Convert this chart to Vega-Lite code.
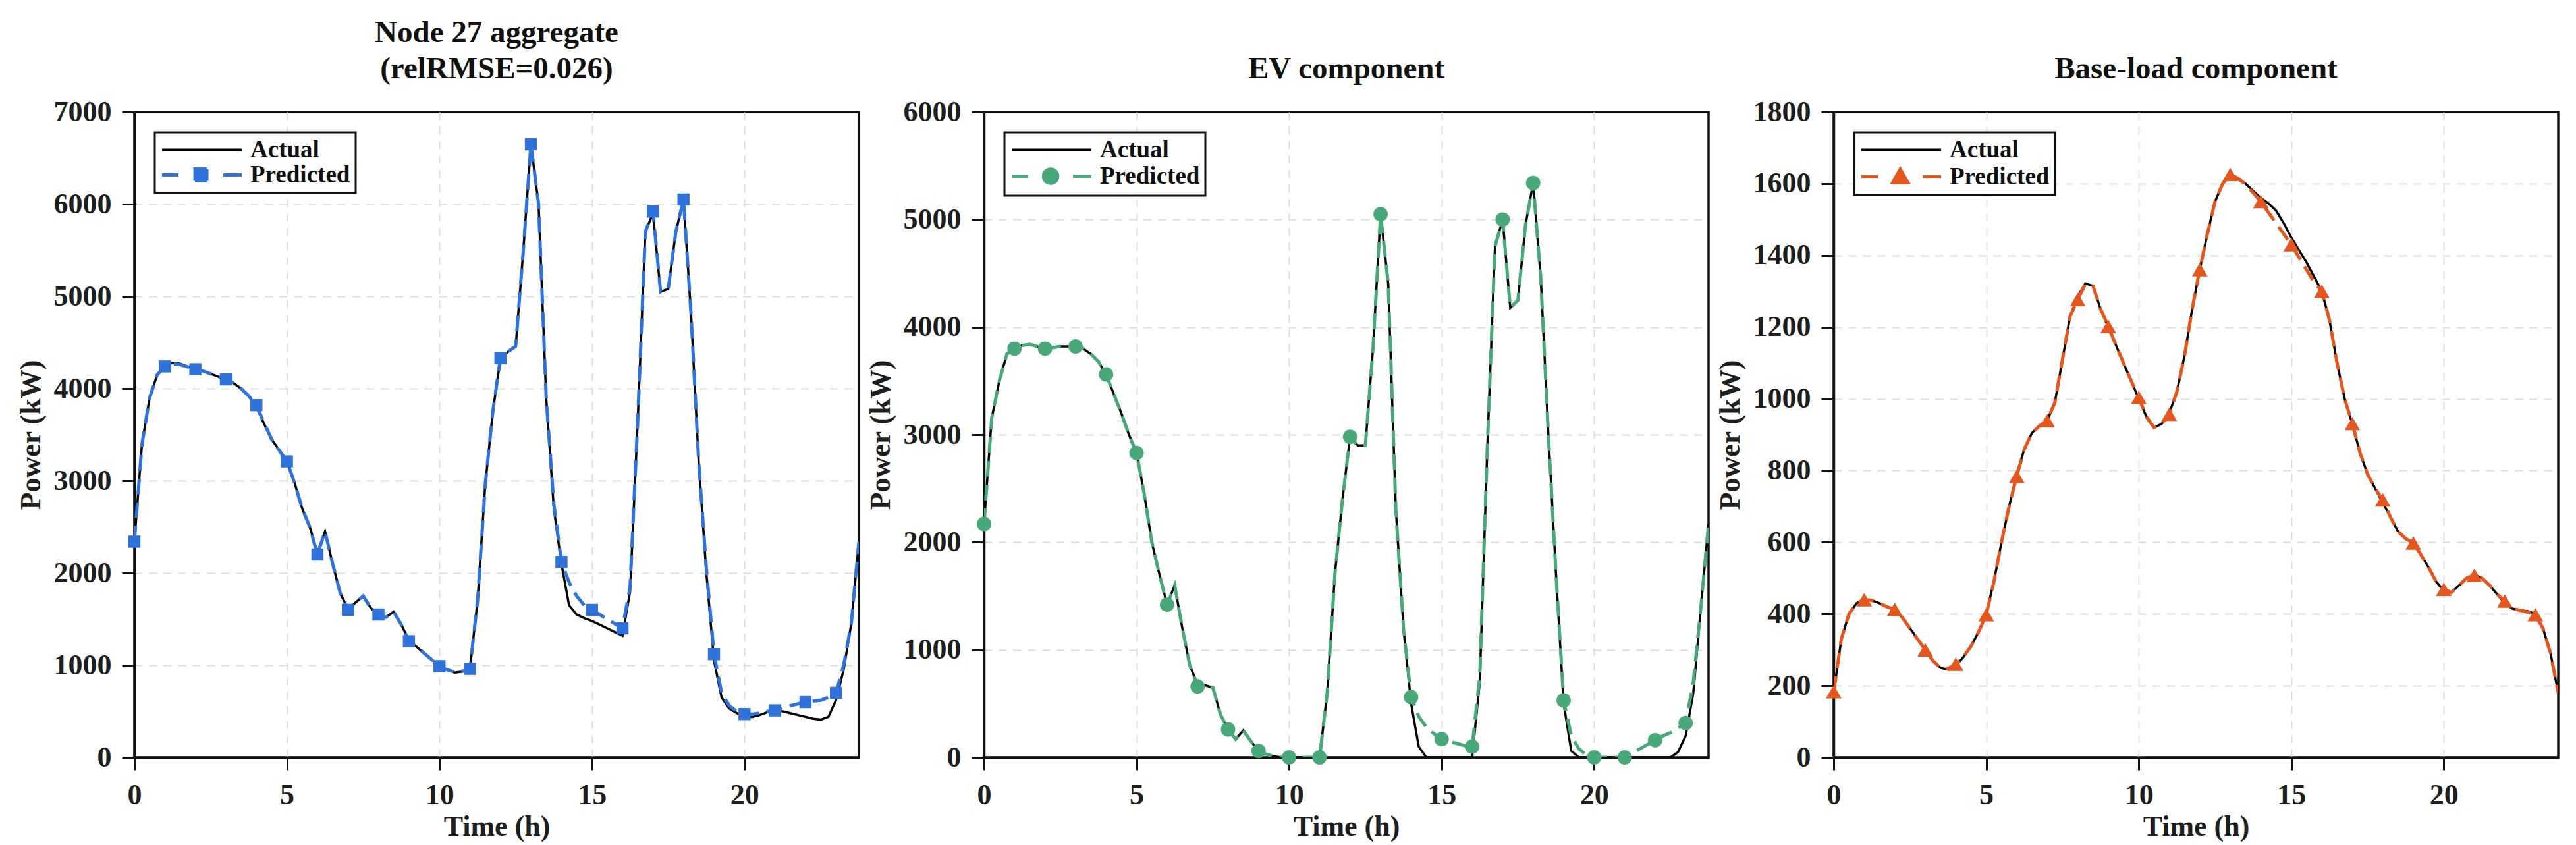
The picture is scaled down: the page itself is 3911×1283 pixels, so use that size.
{
  "$schema": "https://vega.github.io/schema/vega-lite/v6.json",
  "description": "Actual vs predicted power for Node 27: aggregate, EV and base-load components.",
  "background": "white",
  "padding": {"left": 23, "top": 24, "right": 10, "bottom": 10},
  "spacing": 190,
  "bounds": "flush",
  "datasets": {
    "agg": [
      {"t": 0, "a": 2340, "p": 2340}, {"t": 0.25, "a": 3400, "p": 3400}, {"t": 0.5, "a": 3900, "p": 3900}, {"t": 0.75, "a": 4150, "p": 4150},
      {"t": 1, "a": 4250, "p": 4240}, {"t": 1.25, "a": 4280, "p": 4270}, {"t": 1.5, "a": 4270, "p": 4260}, {"t": 1.75, "a": 4240, "p": 4235},
      {"t": 2, "a": 4210, "p": 4210}, {"t": 2.25, "a": 4190, "p": 4190}, {"t": 2.5, "a": 4160, "p": 4160}, {"t": 2.75, "a": 4130, "p": 4130},
      {"t": 3, "a": 4100, "p": 4100}, {"t": 3.25, "a": 4060, "p": 4060}, {"t": 3.5, "a": 4000, "p": 4000}, {"t": 3.75, "a": 3920, "p": 3920},
      {"t": 4, "a": 3800, "p": 3820}, {"t": 4.25, "a": 3620, "p": 3630}, {"t": 4.5, "a": 3450, "p": 3450}, {"t": 4.75, "a": 3330, "p": 3330},
      {"t": 5, "a": 3220, "p": 3210}, {"t": 5.25, "a": 2980, "p": 2980}, {"t": 5.5, "a": 2700, "p": 2700}, {"t": 5.75, "a": 2500, "p": 2500},
      {"t": 6, "a": 2220, "p": 2200}, {"t": 6.25, "a": 2450, "p": 2450}, {"t": 6.5, "a": 2100, "p": 2100}, {"t": 6.75, "a": 1780, "p": 1780},
      {"t": 7, "a": 1610, "p": 1600}, {"t": 7.25, "a": 1680, "p": 1680}, {"t": 7.5, "a": 1750, "p": 1750}, {"t": 7.75, "a": 1620, "p": 1620},
      {"t": 8, "a": 1540, "p": 1550}, {"t": 8.25, "a": 1520, "p": 1520}, {"t": 8.5, "a": 1580, "p": 1580}, {"t": 8.75, "a": 1440, "p": 1440},
      {"t": 9, "a": 1270, "p": 1260}, {"t": 9.25, "a": 1200, "p": 1200}, {"t": 9.5, "a": 1130, "p": 1130}, {"t": 9.75, "a": 1060, "p": 1060},
      {"t": 10, "a": 1000, "p": 990}, {"t": 10.25, "a": 950, "p": 950}, {"t": 10.5, "a": 920, "p": 925}, {"t": 10.75, "a": 930, "p": 935},
      {"t": 11, "a": 960, "p": 960}, {"t": 11.25, "a": 1700, "p": 1700}, {"t": 11.5, "a": 2950, "p": 2950}, {"t": 11.75, "a": 3750, "p": 3750},
      {"t": 12, "a": 4320, "p": 4330}, {"t": 12.25, "a": 4400, "p": 4400}, {"t": 12.5, "a": 4460, "p": 4460}, {"t": 12.75, "a": 5500, "p": 5500},
      {"t": 13, "a": 6650, "p": 6650}, {"t": 13.25, "a": 6000, "p": 6000}, {"t": 13.5, "a": 3900, "p": 3900}, {"t": 13.75, "a": 2700, "p": 2750},
      {"t": 14, "a": 2100, "p": 2120}, {"t": 14.25, "a": 1650, "p": 1900}, {"t": 14.5, "a": 1550, "p": 1750}, {"t": 14.75, "a": 1510, "p": 1650},
      {"t": 15, "a": 1480, "p": 1600}, {"t": 15.25, "a": 1440, "p": 1550}, {"t": 15.5, "a": 1400, "p": 1500}, {"t": 15.75, "a": 1360, "p": 1450},
      {"t": 16, "a": 1320, "p": 1400}, {"t": 16.25, "a": 1800, "p": 1850}, {"t": 16.5, "a": 3650, "p": 3650}, {"t": 16.75, "a": 5700, "p": 5700},
      {"t": 17, "a": 5900, "p": 5920}, {"t": 17.25, "a": 5050, "p": 5050}, {"t": 17.5, "a": 5080, "p": 5080}, {"t": 17.75, "a": 5700, "p": 5700},
      {"t": 18, "a": 6050, "p": 6050}, {"t": 18.25, "a": 4800, "p": 4800}, {"t": 18.5, "a": 3200, "p": 3200}, {"t": 18.75, "a": 2000, "p": 2050},
      {"t": 19, "a": 1050, "p": 1120}, {"t": 19.25, "a": 650, "p": 700}, {"t": 19.5, "a": 530, "p": 560}, {"t": 19.75, "a": 480, "p": 500},
      {"t": 20, "a": 440, "p": 470}, {"t": 20.25, "a": 440, "p": 470}, {"t": 20.5, "a": 460, "p": 480}, {"t": 20.75, "a": 490, "p": 500},
      {"t": 21, "a": 510, "p": 510}, {"t": 21.25, "a": 500, "p": 530}, {"t": 21.5, "a": 480, "p": 560}, {"t": 21.75, "a": 460, "p": 580},
      {"t": 22, "a": 440, "p": 600}, {"t": 22.25, "a": 420, "p": 610}, {"t": 22.5, "a": 410, "p": 620}, {"t": 22.75, "a": 440, "p": 650},
      {"t": 23, "a": 620, "p": 700}, {"t": 23.25, "a": 950, "p": 1000}, {"t": 23.5, "a": 1450, "p": 1450}, {"t": 23.75, "a": 2340, "p": 2340}
    ],
    "ev": [
      {"t": 0, "a": 2170, "p": 2170}, {"t": 0.25, "a": 3150, "p": 3150}, {"t": 0.5, "a": 3500, "p": 3500}, {"t": 0.75, "a": 3750, "p": 3750},
      {"t": 1, "a": 3800, "p": 3800}, {"t": 1.25, "a": 3830, "p": 3830}, {"t": 1.5, "a": 3840, "p": 3840}, {"t": 1.75, "a": 3820, "p": 3820},
      {"t": 2, "a": 3800, "p": 3800}, {"t": 2.25, "a": 3810, "p": 3810}, {"t": 2.5, "a": 3820, "p": 3820}, {"t": 2.75, "a": 3820, "p": 3820},
      {"t": 3, "a": 3820, "p": 3820}, {"t": 3.25, "a": 3800, "p": 3800}, {"t": 3.5, "a": 3750, "p": 3750}, {"t": 3.75, "a": 3680, "p": 3680},
      {"t": 4, "a": 3560, "p": 3560}, {"t": 4.25, "a": 3380, "p": 3380}, {"t": 4.5, "a": 3200, "p": 3200}, {"t": 4.75, "a": 3000, "p": 3000},
      {"t": 5, "a": 2830, "p": 2830}, {"t": 5.25, "a": 2450, "p": 2450}, {"t": 5.5, "a": 2000, "p": 2000}, {"t": 5.75, "a": 1700, "p": 1700},
      {"t": 6, "a": 1420, "p": 1420}, {"t": 6.25, "a": 1600, "p": 1600}, {"t": 6.5, "a": 1200, "p": 1200}, {"t": 6.75, "a": 850, "p": 850},
      {"t": 7, "a": 680, "p": 660}, {"t": 7.25, "a": 670, "p": 670}, {"t": 7.5, "a": 650, "p": 650}, {"t": 7.75, "a": 400, "p": 400},
      {"t": 8, "a": 260, "p": 260}, {"t": 8.25, "a": 170, "p": 170}, {"t": 8.5, "a": 250, "p": 250}, {"t": 8.75, "a": 150, "p": 150},
      {"t": 9, "a": 60, "p": 60}, {"t": 9.25, "a": 30, "p": 30}, {"t": 9.5, "a": 10, "p": 10}, {"t": 9.75, "a": 0, "p": 0},
      {"t": 10, "a": 0, "p": 0}, {"t": 10.25, "a": 0, "p": 0}, {"t": 10.5, "a": 0, "p": 0}, {"t": 10.75, "a": 0, "p": 0},
      {"t": 11, "a": 0, "p": 0}, {"t": 11.25, "a": 600, "p": 600}, {"t": 11.5, "a": 1700, "p": 1700}, {"t": 11.75, "a": 2400, "p": 2400},
      {"t": 12, "a": 2980, "p": 2980}, {"t": 12.25, "a": 2900, "p": 2900}, {"t": 12.5, "a": 2900, "p": 2900}, {"t": 12.75, "a": 3800, "p": 3800},
      {"t": 13, "a": 5050, "p": 5050}, {"t": 13.25, "a": 4400, "p": 4400}, {"t": 13.5, "a": 2300, "p": 2300}, {"t": 13.75, "a": 1200, "p": 1200},
      {"t": 14, "a": 500, "p": 560}, {"t": 14.25, "a": 100, "p": 380}, {"t": 14.5, "a": 0, "p": 280}, {"t": 14.75, "a": 0, "p": 220},
      {"t": 15, "a": 0, "p": 170}, {"t": 15.25, "a": 0, "p": 150}, {"t": 15.5, "a": 0, "p": 130}, {"t": 15.75, "a": 0, "p": 110},
      {"t": 16, "a": 0, "p": 100}, {"t": 16.25, "a": 700, "p": 750}, {"t": 16.5, "a": 2900, "p": 2900}, {"t": 16.75, "a": 4750, "p": 4750},
      {"t": 17, "a": 5000, "p": 5000}, {"t": 17.25, "a": 4180, "p": 4180}, {"t": 17.5, "a": 4250, "p": 4250}, {"t": 17.75, "a": 4950, "p": 4950},
      {"t": 18, "a": 5340, "p": 5340}, {"t": 18.25, "a": 4450, "p": 4450}, {"t": 18.5, "a": 3000, "p": 3000}, {"t": 18.75, "a": 1700, "p": 1700},
      {"t": 19, "a": 500, "p": 530}, {"t": 19.25, "a": 60, "p": 200}, {"t": 19.5, "a": 0, "p": 80}, {"t": 19.75, "a": 0, "p": 20},
      {"t": 20, "a": 0, "p": 0}, {"t": 20.25, "a": 0, "p": 0}, {"t": 20.5, "a": 0, "p": 0}, {"t": 20.75, "a": 0, "p": 0},
      {"t": 21, "a": 0, "p": 0}, {"t": 21.25, "a": 0, "p": 40}, {"t": 21.5, "a": 0, "p": 80}, {"t": 21.75, "a": 0, "p": 120},
      {"t": 22, "a": 0, "p": 160}, {"t": 22.25, "a": 0, "p": 200}, {"t": 22.5, "a": 0, "p": 230}, {"t": 22.75, "a": 50, "p": 270},
      {"t": 23, "a": 200, "p": 320}, {"t": 23.25, "a": 600, "p": 700}, {"t": 23.5, "a": 1400, "p": 1400}, {"t": 23.75, "a": 2170, "p": 2170}
    ],
    "base": [
      {"t": 0, "a": 180, "p": 183}, {"t": 0.25, "a": 330, "p": 330}, {"t": 0.5, "a": 400, "p": 400}, {"t": 0.75, "a": 430, "p": 430},
      {"t": 1, "a": 440, "p": 440}, {"t": 1.25, "a": 438, "p": 438}, {"t": 1.5, "a": 430, "p": 430}, {"t": 1.75, "a": 420, "p": 420},
      {"t": 2, "a": 410, "p": 413}, {"t": 2.25, "a": 390, "p": 390}, {"t": 2.5, "a": 360, "p": 360}, {"t": 2.75, "a": 330, "p": 330},
      {"t": 3, "a": 300, "p": 300}, {"t": 3.25, "a": 270, "p": 270}, {"t": 3.5, "a": 250, "p": 250}, {"t": 3.75, "a": 245, "p": 248},
      {"t": 4, "a": 255, "p": 260}, {"t": 4.25, "a": 280, "p": 280}, {"t": 4.5, "a": 310, "p": 310}, {"t": 4.75, "a": 350, "p": 350},
      {"t": 5, "a": 400, "p": 398}, {"t": 5.25, "a": 490, "p": 490}, {"t": 5.5, "a": 600, "p": 600}, {"t": 5.75, "a": 700, "p": 700},
      {"t": 6, "a": 790, "p": 784}, {"t": 6.25, "a": 860, "p": 860}, {"t": 6.5, "a": 905, "p": 905}, {"t": 6.75, "a": 925, "p": 925},
      {"t": 7, "a": 940, "p": 939}, {"t": 7.25, "a": 990, "p": 990}, {"t": 7.5, "a": 1110, "p": 1110}, {"t": 7.75, "a": 1230, "p": 1230},
      {"t": 8, "a": 1285, "p": 1277}, {"t": 8.25, "a": 1322, "p": 1320}, {"t": 8.5, "a": 1315, "p": 1315}, {"t": 8.75, "a": 1250, "p": 1250},
      {"t": 9, "a": 1200, "p": 1202}, {"t": 9.25, "a": 1150, "p": 1150}, {"t": 9.5, "a": 1100, "p": 1100}, {"t": 9.75, "a": 1050, "p": 1050},
      {"t": 10, "a": 1000, "p": 1004}, {"t": 10.25, "a": 950, "p": 950}, {"t": 10.5, "a": 920, "p": 920}, {"t": 10.75, "a": 930, "p": 930},
      {"t": 11, "a": 960, "p": 957}, {"t": 11.25, "a": 1020, "p": 1020}, {"t": 11.5, "a": 1120, "p": 1120}, {"t": 11.75, "a": 1250, "p": 1250},
      {"t": 12, "a": 1360, "p": 1360}, {"t": 12.25, "a": 1460, "p": 1460}, {"t": 12.5, "a": 1550, "p": 1550}, {"t": 12.75, "a": 1600, "p": 1600},
      {"t": 13, "a": 1625, "p": 1626}, {"t": 13.25, "a": 1615, "p": 1615}, {"t": 13.5, "a": 1600, "p": 1598}, {"t": 13.75, "a": 1580, "p": 1575},
      {"t": 14, "a": 1560, "p": 1550}, {"t": 14.25, "a": 1545, "p": 1520}, {"t": 14.5, "a": 1525, "p": 1490}, {"t": 14.75, "a": 1490, "p": 1460},
      {"t": 15, "a": 1450, "p": 1430}, {"t": 15.25, "a": 1415, "p": 1395}, {"t": 15.5, "a": 1380, "p": 1360}, {"t": 15.75, "a": 1340, "p": 1325},
      {"t": 16, "a": 1300, "p": 1300}, {"t": 16.25, "a": 1220, "p": 1220}, {"t": 16.5, "a": 1100, "p": 1100}, {"t": 16.75, "a": 1000, "p": 1000},
      {"t": 17, "a": 930, "p": 931}, {"t": 17.25, "a": 850, "p": 850}, {"t": 17.5, "a": 790, "p": 790}, {"t": 17.75, "a": 750, "p": 750},
      {"t": 18, "a": 710, "p": 718}, {"t": 18.25, "a": 670, "p": 670}, {"t": 18.5, "a": 630, "p": 630}, {"t": 18.75, "a": 610, "p": 610},
      {"t": 19, "a": 600, "p": 598}, {"t": 19.25, "a": 565, "p": 565}, {"t": 19.5, "a": 530, "p": 530}, {"t": 19.75, "a": 490, "p": 490},
      {"t": 20, "a": 465, "p": 469}, {"t": 20.25, "a": 460, "p": 460}, {"t": 20.5, "a": 480, "p": 480}, {"t": 20.75, "a": 500, "p": 500},
      {"t": 21, "a": 510, "p": 508}, {"t": 21.25, "a": 500, "p": 500}, {"t": 21.5, "a": 480, "p": 480}, {"t": 21.75, "a": 455, "p": 455},
      {"t": 22, "a": 430, "p": 436}, {"t": 22.25, "a": 415, "p": 415}, {"t": 22.5, "a": 410, "p": 410}, {"t": 22.75, "a": 408, "p": 405},
      {"t": 23, "a": 400, "p": 398}, {"t": 23.25, "a": 360, "p": 360}, {"t": 23.5, "a": 290, "p": 290}, {"t": 23.75, "a": 180, "p": 180}
    ]
  },
  "hconcat": [
    {
      "width": 1100,
      "height": 980,
      "title": {"text": ["Node 27 aggregate", "(relRMSE=0.026)"]},
      "data": {"name": "agg"},
      "encoding": {
        "x": {"field": "t", "type": "quantitative", "title": "Time (h)", "scale": {"domain": [0, 23.75], "nice": false, "zero": false}, "axis": {"values": [0, 5, 10, 15, 20], "format": "d"}},
        "color": {
          "datum": "Actual",
          "type": "nominal",
          "scale": {"domain": ["Actual", "Predicted"], "range": ["#000000", "#2f72d9"]},
          "legend": {
            "encode": {
              "symbols": {
                "update": {
                  "shape": {"signal": "datum.value === 'Actual' ? 'M-0.86,0H5.86' : 'M-0.86,0H0.53M1.92,-0.5H2.92V0.5H1.92ZM4.31,0H5.86'"},
                  "stroke": {"signal": "datum.value === 'Actual' ? '#000000' : '#2f72d9'"},
                  "fill": {"signal": "datum.value === 'Actual' ? '#000000' : '#2f72d9'"},
                  "strokeWidth": {"signal": "datum.value === 'Actual' ? 4 : 5"},
                  "strokeDash": {"value": [1, 0]},
                  "opacity": {"value": 1},
                  "fillOpacity": {"value": 1}
                }
              },
              "legend": {"update": {"strokeWidth": {"value": 3}}}
            }
          }
        }
      },
      "layer": [
        {
          "mark": {"type": "line", "strokeWidth": 3.5, "clip": true},
          "encoding": {"y": {"field": "a", "type": "quantitative", "title": "Power (kW)", "scale": {"domain": [0, 7000], "nice": false}, "axis": {"values": [0, 1000, 2000, 3000, 4000, 5000, 6000, 7000], "format": "d", "gridOpacity": {"condition": {"test": "datum.value >= 7000", "value": 0}, "value": 1}}}, "color": {"datum": "Actual", "type": "nominal"}}
        },
        {
          "mark": {"type": "line", "strokeWidth": 5, "strokeDash": [24, 12], "clip": true},
          "encoding": {"y": {"field": "p", "type": "quantitative"}, "color": {"datum": "Predicted", "type": "nominal"}}
        },
        {
          "transform": [{"filter": "datum.t % 1 === 0"}],
          "mark": {"type": "point", "shape": "square", "filled": true, "size": 340, "opacity": 1},
          "encoding": {"y": {"field": "p", "type": "quantitative"}, "color": {"datum": "Predicted", "type": "nominal"}}
        }
      ]
    },
    {
      "width": 1100,
      "height": 980,
      "title": {"text": "EV component"},
      "data": {"name": "ev"},
      "encoding": {
        "x": {"field": "t", "type": "quantitative", "title": "Time (h)", "scale": {"domain": [0, 23.75], "nice": false, "zero": false}, "axis": {"values": [0, 5, 10, 15, 20], "format": "d"}},
        "color": {
          "datum": "Actual",
          "type": "nominal",
          "scale": {"domain": ["Actual", "Predicted"], "range": ["#000000", "#48a878"]},
          "legend": {
            "encode": {
              "symbols": {
                "update": {
                  "shape": {"signal": "datum.value === 'Actual' ? 'M-0.86,0H5.86' : 'M-0.86,0H0.53M3.02,0A0.6,0.6 0 1,1 1.82,0A0.6,0.6 0 1,1 3.02,0ZM4.31,0H5.86'"},
                  "stroke": {"signal": "datum.value === 'Actual' ? '#000000' : '#48a878'"},
                  "fill": {"signal": "datum.value === 'Actual' ? '#000000' : '#48a878'"},
                  "strokeWidth": {"signal": "datum.value === 'Actual' ? 4 : 5"},
                  "strokeDash": {"value": [1, 0]},
                  "opacity": {"value": 1},
                  "fillOpacity": {"value": 1}
                }
              },
              "legend": {"update": {"strokeWidth": {"value": 3}}}
            }
          }
        }
      },
      "layer": [
        {
          "mark": {"type": "line", "strokeWidth": 3.5, "clip": true},
          "encoding": {"y": {"field": "a", "type": "quantitative", "title": "Power (kW)", "scale": {"domain": [0, 6000], "nice": false}, "axis": {"values": [0, 1000, 2000, 3000, 4000, 5000, 6000], "format": "d", "gridOpacity": {"condition": {"test": "datum.value >= 6000", "value": 0}, "value": 1}}}, "color": {"datum": "Actual", "type": "nominal"}}
        },
        {
          "mark": {"type": "line", "strokeWidth": 5, "strokeDash": [24, 12], "clip": true},
          "encoding": {"y": {"field": "p", "type": "quantitative"}, "color": {"datum": "Predicted", "type": "nominal"}}
        },
        {
          "transform": [{"filter": "datum.t % 1 === 0"}],
          "mark": {"type": "point", "shape": "circle", "filled": true, "size": 480, "opacity": 1},
          "encoding": {"y": {"field": "p", "type": "quantitative"}, "color": {"datum": "Predicted", "type": "nominal"}}
        }
      ]
    },
    {
      "width": 1100,
      "height": 980,
      "title": {"text": "Base-load component"},
      "data": {"name": "base"},
      "encoding": {
        "x": {"field": "t", "type": "quantitative", "title": "Time (h)", "scale": {"domain": [0, 23.75], "nice": false, "zero": false}, "axis": {"values": [0, 5, 10, 15, 20], "format": "d"}},
        "color": {
          "datum": "Actual",
          "type": "nominal",
          "scale": {"domain": ["Actual", "Predicted"], "range": ["#000000", "#e4561e"]},
          "legend": {
            "encode": {
              "symbols": {
                "update": {
                  "shape": {"signal": "datum.value === 'Actual' ? 'M-0.86,0H5.86' : 'M-0.86,0H0.53M2.42,-0.65L3.07,0.5H1.77ZM4.31,0H5.86'"},
                  "stroke": {"signal": "datum.value === 'Actual' ? '#000000' : '#e4561e'"},
                  "fill": {"signal": "datum.value === 'Actual' ? '#000000' : '#e4561e'"},
                  "strokeWidth": {"signal": "datum.value === 'Actual' ? 4 : 5"},
                  "strokeDash": {"value": [1, 0]},
                  "opacity": {"value": 1},
                  "fillOpacity": {"value": 1}
                }
              },
              "legend": {"update": {"strokeWidth": {"value": 3}}}
            }
          }
        }
      },
      "layer": [
        {
          "mark": {"type": "line", "strokeWidth": 3.5, "clip": true},
          "encoding": {"y": {"field": "a", "type": "quantitative", "title": "Power (kW)", "scale": {"domain": [0, 1800], "nice": false}, "axis": {"values": [0, 200, 400, 600, 800, 1000, 1200, 1400, 1600, 1800], "format": "d", "gridOpacity": {"condition": {"test": "datum.value >= 1800", "value": 0}, "value": 1}}}, "color": {"datum": "Actual", "type": "nominal"}}
        },
        {
          "mark": {"type": "line", "strokeWidth": 5, "strokeDash": [24, 12], "clip": true},
          "encoding": {"y": {"field": "p", "type": "quantitative"}, "color": {"datum": "Predicted", "type": "nominal"}}
        },
        {
          "transform": [{"filter": "datum.t % 1 === 0"}],
          "mark": {"type": "point", "shape": "triangle-up", "filled": true, "size": 560, "opacity": 1},
          "encoding": {"y": {"field": "p", "type": "quantitative"}, "color": {"datum": "Predicted", "type": "nominal"}}
        }
      ]
    }
  ],
  "resolve": {"scale": {"color": "independent", "y": "independent"}, "legend": {"color": "independent"}},
  "config": {
    "font": "Liberation Serif",
    "view": {"stroke": "#111111", "strokeWidth": 3.5},
    "title": {"font": "Liberation Serif", "fontSize": 47, "fontWeight": "bold", "color": "#111111", "offset": 19, "baseline": "alphabetic", "lineHeight": 55, "anchor": "middle"},
    "axis": {
      "labelFont": "Liberation Serif",
      "labelFontSize": 44,
      "labelFontWeight": "bold",
      "labelColor": "#1e1e1e",
      "labelPadding": 16,
      "titleFont": "Liberation Serif",
      "titleFontSize": 44,
      "titleFontWeight": "bold",
      "titleColor": "#1e1e1e",
      "domainColor": "#111111",
      "domainWidth": 3.5,
      "tickColor": "#111111",
      "tickWidth": 3,
      "tickSize": 19,
      "grid": true,
      "gridColor": "#dcdcdc",
      "gridWidth": 2,
      "gridDash": [12, 10],
      "labelFlush": false,
      "labelOverlap": false
    },
    "axisX": {"titlePadding": 4},
    "axisY": {"titlePadding": 12},
    "legend": {
      "orient": "top-left",
      "offset": 31,
      "title": null,
      "strokeColor": "#111111",
      "fillColor": "white",
      "padding": 8,
      "symbolSize": 1296,
      "labelOffset": 100,
      "labelLimit": 400,
      "rowPadding": 0,
      "labelFont": "Liberation Serif",
      "labelFontSize": 37,
      "labelFontWeight": "bold",
      "labelColor": "#111111"
    }
  }
}
